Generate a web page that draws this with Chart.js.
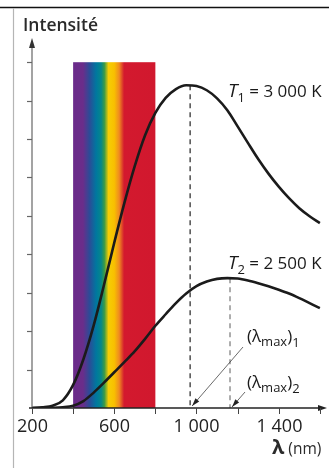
<!DOCTYPE html>
<html>
<head>
<meta charset="utf-8">
<script src="https://cdn.jsdelivr.net/npm/chart.js@4.4.1/dist/chart.umd.min.js"></script>
<style>
  html, body { margin: 0; padding: 0; background: #fff; }
  #wrap { width: 329px; height: 468px; position: relative; }
</style>
</head>
<body>
<div id="wrap"><canvas id="planckChart" width="329" height="468"></canvas></div>
<script>
// wavelengths (nm) and intensities
const lambdaNm = [200, 250, 300, 350, 400, 450, 500, 550, 600, 650, 700, 750, 800, 850, 900, 950, 1000,
                  1050, 1100, 1150, 1200, 1250, 1300, 1350, 1400, 1450, 1500, 1550, 1600];
const intensT1 = [0, 0.02, 0.06, 0.2, 0.6, 1.27, 2.15, 3.2, 4.3, 5.35, 6.3, 7.1, 7.68, 8.07, 8.3, 8.4, 8.38,
                  8.27, 8.06, 7.75, 7.33, 6.9, 6.48, 6.1, 5.76, 5.46, 5.2, 4.99, 4.81];
const intensT2 = [0, 0, 0.005, 0.02, 0.06, 0.18, 0.4, 0.66, 0.93, 1.2, 1.48, 1.8, 2.14, 2.44, 2.73, 2.98, 3.17,
                  3.29, 3.36, 3.38, 3.37, 3.32, 3.25, 3.17, 3.08, 2.98, 2.86, 2.73, 2.6];

// peak wavelengths
const lambdaMax = [969, 1163];
const peakIntens = [8.40, 3.38];

// axis ticks
const xTicks = [200, 400, 600, 800, 1000, 1200, 1400, 1600];
const xTickLabels = ['200', '', '600', '', '1 000', '', '1 400', ''];
const yTicks = [1, 2, 3, 4, 5, 6, 7, 8, 9];

// visible band
const visibleBand = [400, 800];
const spectrumStops = [
  [0, '#6a2b8a'], [0.12, '#6a2d8a'], [0.2, '#2b4c97'], [0.28, '#00779f'],
  [0.34, '#05878a'], [0.38, '#3a9a47'], [0.43, '#f5cd05'], [0.5, '#f8c000'],
  [0.56, '#ef8a20'], [0.62, '#d3192e'], [1, '#d1182e']
];

function toPoints(xs, ys) {
  return xs.map((x, i) => ({ x: x, y: ys[i] }));
}

const FONT = '"Open Sans", "Noto Sans", sans-serif';

// spectrum band drawn behind the curves
const spectrumPlugin = {
  id: 'spectrum',
  beforeDatasetsDraw(chart) {
    const ctx = chart.ctx;
    const xs = chart.scales.x, ys = chart.scales.y;
    const x0 = xs.getPixelForValue(visibleBand[0]);
    const x1 = xs.getPixelForValue(visibleBand[1]);
    const yTop = ys.getPixelForValue(yTicks[yTicks.length - 1]);
    const yBot = ys.getPixelForValue(0);
    const grad = ctx.createLinearGradient(x0, 0, x1, 0);
    spectrumStops.forEach(s => grad.addColorStop(s[0], s[1]));
    ctx.save();
    ctx.fillStyle = grad;
    ctx.fillRect(x0, yTop, x1 - x0, yBot - yTop);
    ctx.restore();
  }
};

function arrowHead(ctx, fromX, fromY, toX, toY, len, wid) {
  const a = Math.atan2(toY - fromY, toX - fromX);
  ctx.beginPath();
  ctx.moveTo(toX, toY);
  ctx.lineTo(toX - len * Math.cos(a) + wid * Math.sin(a), toY - len * Math.sin(a) - wid * Math.cos(a));
  ctx.lineTo(toX - len * Math.cos(a) - wid * Math.sin(a), toY - len * Math.sin(a) + wid * Math.cos(a));
  ctx.closePath();
  ctx.fill();
}

// draws text pieces one after another: [text, size, dy, italic, weight]
function drawPieces(ctx, x, y, pieces, color) {
  ctx.fillStyle = color;
  ctx.textBaseline = 'alphabetic';
  ctx.textAlign = 'left';
  pieces.forEach(p => {
    ctx.font = (p[3] ? 'italic ' : '') + (p[4] || 400) + ' ' + p[1] + 'px ' + FONT;
    ctx.fillText(p[0], x, y + p[2]);
    x += ctx.measureText(p[0]).width;
  });
}

// axes, ticks, labels and annotations
const axesPlugin = {
  id: 'axes',
  afterDatasetsDraw(chart) {
    const ctx = chart.ctx;
    const xs = chart.scales.x, ys = chart.scales.y;
    const area = chart.chartArea;
    const y0 = ys.getPixelForValue(0);
    const xAxis = xs.getPixelForValue(200);
    ctx.save();

    // page frame
    ctx.strokeStyle = '#111';
    ctx.lineWidth = 1.5;
    ctx.beginPath(); ctx.moveTo(0, 7.5); ctx.lineTo(329, 7.5); ctx.stroke();
    ctx.strokeStyle = '#b5b5b5';
    ctx.lineWidth = 1.2;
    ctx.beginPath(); ctx.moveTo(13.5, 8); ctx.lineTo(13.5, 468); ctx.stroke();

    // y axis
    ctx.strokeStyle = '#666';
    ctx.fillStyle = '#333';
    ctx.lineWidth = 1.2;
    ctx.beginPath(); ctx.moveTo(xAxis, y0); ctx.lineTo(xAxis, area.top + 6); ctx.stroke();
    arrowHead(ctx, xAxis, area.top + 20, xAxis, area.top, 10, 3);
    yTicks.forEach(v => {
      const py = Math.round(ys.getPixelForValue(v)) + 0.5;
      ctx.beginPath(); ctx.moveTo(xAxis - 5, py); ctx.lineTo(xAxis, py); ctx.stroke();
    });

    // x axis
    ctx.strokeStyle = '#222';
    ctx.fillStyle = '#222';
    ctx.lineWidth = 1.3;
    ctx.beginPath(); ctx.moveTo(xAxis - 3, y0); ctx.lineTo(area.right - 5, y0); ctx.stroke();
    arrowHead(ctx, area.right - 15, y0, area.right + 2, y0, 9, 3);
    ctx.strokeStyle = '#444';
    ctx.lineWidth = 1;
    ctx.font = '18px ' + FONT;
    ctx.textAlign = 'center';
    ctx.textBaseline = 'middle';
    xTicks.forEach((v, i) => {
      const px = Math.round(xs.getPixelForValue(v)) + 0.5;
      ctx.beginPath(); ctx.moveTo(px, y0); ctx.lineTo(px, y0 + 6); ctx.stroke();
      if (xTickLabels[i]) {
        ctx.fillStyle = '#222';
        ctx.fillText(xTickLabels[i], px, y0 + 19);
      }
    });

    // axis titles
    drawPieces(ctx, 23, 31, [['Intensité', 17.5, 0, false, 600]], '#2a2a2a');
    drawPieces(ctx, 272, 454, [['λ', 20, 0, false, 700], [' (nm)', 15.5, 0, false, 400]], '#2a2a2a');

    // curve labels
    drawPieces(ctx, 228, 97, [['T', 19, 0, true], ['1', 13, 5], [' = 3 000 K', 17, 0]], '#1a1a1a');
    drawPieces(ctx, 228, 269, [['T', 19, 0, true], ['2', 13, 5], [' = 2 500 K', 17, 0]], '#1a1a1a');

    // lambda max annotations
    ctx.strokeStyle = '#444';
    ctx.fillStyle = '#222';
    ctx.lineWidth = 0.8;
    const p1 = xs.getPixelForValue(lambdaMax[0]);
    const p2 = xs.getPixelForValue(lambdaMax[1]);
    ctx.beginPath(); ctx.moveTo(243, 347); ctx.lineTo(p1 + 2, y0 - 2); ctx.stroke();
    arrowHead(ctx, 243, 347, p1 + 2, y0 - 2, 8, 2.5);
    ctx.beginPath(); ctx.moveTo(245, 392); ctx.lineTo(p2 + 2, y0 - 1); ctx.stroke();
    arrowHead(ctx, 245, 392, p2 + 2, y0 - 1, 8, 2.5);
    drawPieces(ctx, 247, 342, [['(λ', 17, 0], ['max', 13, 4], [')', 17, 0], ['1', 13, 5]], '#1a1a1a');
    drawPieces(ctx, 247, 388, [['(λ', 17, 0], ['max', 13, 4], [')', 17, 0], ['2', 13, 5]], '#1a1a1a');

    ctx.restore();
  }
};

const ctx = document.getElementById('planckChart').getContext('2d');
const planckChart = new Chart(ctx, {
  type: 'line',
  data: {
    datasets: [
      {
        label: 'T1 = 3 000 K',
        data: toPoints(lambdaNm, intensT1),
        borderColor: '#1b1b1b',
        borderWidth: 2.6,
        pointRadius: 0,
        cubicInterpolationMode: 'monotone',
        fill: false
      },
      {
        label: 'T2 = 2 500 K',
        data: toPoints(lambdaNm, intensT2),
        borderColor: '#1b1b1b',
        borderWidth: 2.6,
        pointRadius: 0,
        cubicInterpolationMode: 'monotone',
        fill: false
      },
      {
        label: 'lambda max 1',
        data: [{ x: lambdaMax[0], y: peakIntens[0] }, { x: lambdaMax[0], y: 0 }],
        borderColor: '#222',
        borderWidth: 1.2,
        borderDash: [5, 4],
        pointRadius: 0
      },
      {
        label: 'lambda max 2',
        data: [{ x: lambdaMax[1], y: peakIntens[1] }, { x: lambdaMax[1], y: 0 }],
        borderColor: '#777',
        borderWidth: 1.2,
        borderDash: [5, 4],
        pointRadius: 0
      }
    ]
  },
  options: {
    responsive: false,
    animation: false,
    layout: { padding: { left: 32, right: 4, top: 38, bottom: 60 } },
    plugins: {
      legend: { display: false },
      tooltip: { enabled: false }
    },
    scales: {
      x: { type: 'linear', min: 200, max: 1625, display: false },
      y: { type: 'linear', min: 0, max: 9.63, display: false }
    }
  },
  plugins: [spectrumPlugin, axesPlugin]
});
</script>
</body>
</html>
